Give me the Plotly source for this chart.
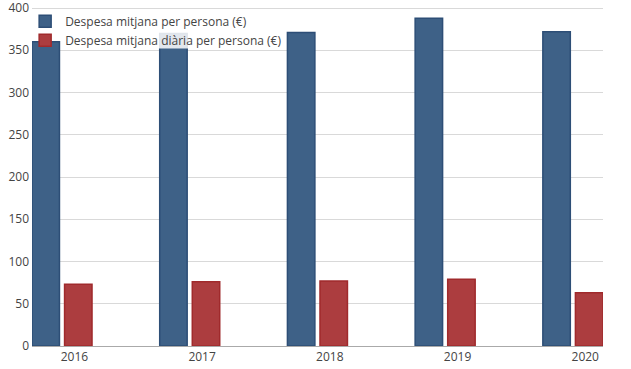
import plotly.graph_objects as go

years = ["2016", "2017", "2018", "2019", "2020"]
despesa_persona = [360, 370, 371, 388, 372]
despesa_diaria = [73, 76, 77, 79, 63]
y_ticks = [0, 50, 100, 150, 200, 250, 300, 350, 400]

pos = list(range(len(years)))

fig = go.Figure()
fig.add_trace(go.Bar(
    x=pos, y=despesa_persona, name="Despesa mitjana per persona (€)",
    offset=-0.332, width=0.215,
    marker=dict(color="rgb(62,97,135)", line=dict(color="rgb(45,78,118)", width=1.5)),
))
fig.add_trace(go.Bar(
    x=pos, y=despesa_diaria, name="Despesa mitjana diària per persona (€)",
    offset=-0.077, width=0.215,
    marker=dict(color="rgb(172,61,63)", line=dict(color="rgb(160,42,44)", width=1.5)),
))

# translucent backdrop behind the legend texts (as in the reference)
fig.add_shape(
    type="rect", xref="paper", yref="paper",
    x0=0.053, x1=0.43, y0=0.875, y1=0.982,
    fillcolor="rgba(255,255,255,0.85)", line=dict(width=0), layer="above",
)

fig.update_layout(
    width=631, height=369,
    margin=dict(l=32, r=28, t=6, b=23, autoexpand=False),
    plot_bgcolor="white", paper_bgcolor="white",
    font=dict(family="Open Sans", size=12, color="#444"),
    barmode="overlay",
    showlegend=True,
    legend=dict(
        x=-0.012, y=0.998, xanchor="left", yanchor="top",
        bgcolor="rgba(255,255,255,0)",
        font=dict(size=12, color="#444"),
        traceorder="normal",
    ),
    xaxis=dict(
        range=[-0.332, 4.139],
        tickvals=pos, ticktext=years,
        showgrid=False, zeroline=False,
        showline=True, linecolor="#aaa", linewidth=1,
        ticks="", fixedrange=True, automargin=False,
    ),
    yaxis=dict(
        range=[0, 402.4], tickvals=y_ticks,
        showgrid=True, gridcolor="#d9d9d9", gridwidth=1,
        zeroline=False, showline=False, ticks="", automargin=False,
        ticklabeloverflow="allow", ticklabelstandoff=2,
    ),
)

fig.write_html("out.html", config={"displayModeBar": False},
               post_script="document.body.style.margin='0';")
